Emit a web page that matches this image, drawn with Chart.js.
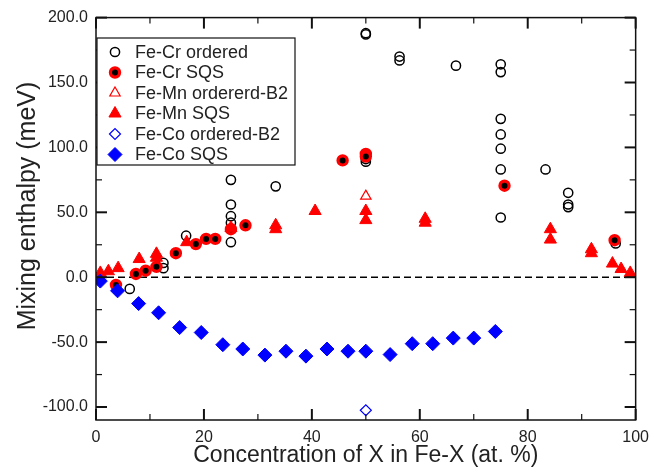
<!DOCTYPE html>
<html>
<head>
<meta charset="utf-8">
<script src="https://cdn.jsdelivr.net/npm/chart.js@4.4.0/dist/chart.umd.min.js"></script>
<style>
  html, body { margin: 0; padding: 0; background: #fff; }
  #wrap { width: 657px; height: 473px; }
</style>
</head>
<body>
<div id="wrap"><canvas id="c" width="657" height="473"></canvas></div>
<script>
// Mixing enthalpy (meV) versus concentration of X in Fe-X (at. %)
const crOrderedX = [6.25, 12.5, 12.5, 16.7, 25, 25, 25, 25, 25, 33.3, 50, 50, 50, 50, 56.25, 56.25, 66.7,
                    75, 75, 75, 75, 75, 75, 75, 83.3, 87.5, 87.5, 87.5, 96.3];
const crOrderedY = [-9, 11, 7, 32, 75, 56, 47, 42, 27, 70, 188, 187, 91, 89, 170, 167, 163,
                    164, 158, 122, 110, 99, 83, 46, 83, 65, 56, 54, 26];

const crSqsX = [3.7, 7.4, 9.2, 11.2, 14.8, 18.5, 20.4, 22.1, 25, 27.7, 45.7, 50, 50, 75.7, 96.1];
const crSqsY = [-6, 2.5, 5, 8, 18.5, 25.5, 29.5, 29.5, 37, 40, 90, 95, 93, 70.5, 28.5];

const mnB2X = [50];
const mnB2Y = [62.5];

const mnSqsX = [0.8, 2.3, 4.1, 8, 11.2, 11.2, 16.8, 25, 33.3, 33.3, 40.6, 50, 50, 61, 61,
                84.2, 84.2, 91.8, 91.8, 95.7, 97.3, 99];
const mnSqsY = [3.3, 4.6, 7, 14, 18, 15, 27, 38, 40, 37, 51, 51, 44, 45, 42,
                37, 29, 21.5, 18.5, 10.5, 6.3, 3.3];

const coB2X = [50];
const coB2Y = [-102.5];

const coSqsX = [0.8, 4, 7.9, 11.6, 15.5, 19.5, 23.5, 27.2, 31.3, 35.2, 38.9, 42.8, 46.7, 50,
                54.5, 58.6, 62.4, 66.2, 70, 74];
const coSqsY = [-3, -10.5, -20.3, -27.4, -38.8, -42.6, -52, -55.3, -60, -57, -60.8, -55.3, -57, -57,
                -59.6, -51.2, -51.2, -46.9, -46.9, -41.8];

const xTicks = [0, 20, 40, 60, 80, 100];
const yTicks = [-100, -50, 0, 50, 100, 150, 200];
const seriesNames = ['Fe-Cr ordered', 'Fe-Cr SQS', 'Fe-Mn ordererd-B2', 'Fe-Mn SQS', 'Fe-Co ordered-B2', 'Fe-Co SQS'];
const xTitle = 'Concentration of X in Fe-X (at. %)';
const yTitle = 'Mixing enthalpy (meV)';

const FONT = '"Liberation Sans", Arial, Helvetica, sans-serif';
const pts = (xs, ys) => xs.map((x, i) => ({ x, y: ys[i] }));

const styles = [
  { pointStyle: 'circle',   radius: 4.6, bg: 'rgba(0,0,0,0)', border: '#000', bw: 1.5 },
  { pointStyle: 'circle',   radius: 4.6, bg: '#000',          border: '#f00', bw: 3.2 },
  { pointStyle: 'triangle', radius: 6,   bg: 'rgba(0,0,0,0)', border: '#f00', bw: 1.2 },
  { pointStyle: 'triangle', radius: 7,   bg: '#f00',          border: '#f00', bw: 1 },
  { pointStyle: 'rectRot',  radius: 5.5, bg: 'rgba(0,0,0,0)', border: '#00f', bw: 1.2 },
  { pointStyle: 'rectRot',  radius: 7,   bg: '#00f',          border: '#00f', bw: 1 }
];
const seriesData = [pts(crOrderedX, crOrderedY), pts(crSqsX, crSqsY), pts(mnB2X, mnB2Y),
                    pts(mnSqsX, mnSqsY), pts(coB2X, coB2Y), pts(coSqsX, coSqsY)];

const datasets = seriesData.map((d, i) => ({
  type: 'scatter',
  label: seriesNames[i],
  data: d,
  pointStyle: styles[i].pointStyle,
  pointRadius: styles[i].radius,
  pointHoverRadius: styles[i].radius,
  pointBackgroundColor: styles[i].bg,
  pointBorderColor: styles[i].border,
  pointBorderWidth: styles[i].bw,
  showLine: false,
  order: 6 - i
}));

// dashed zero reference line
datasets.push({
  type: 'line',
  label: 'zero',
  data: [{ x: 0, y: 0 }, { x: 100, y: 0 }],
  borderColor: '#000',
  borderWidth: 1.5,
  borderDash: [7, 4],
  pointRadius: 0,
  fill: false,
  order: 10
});

function drawMarker(ctx, st, x, y) {
  ctx.save();
  ctx.beginPath();
  const r = st.radius;
  if (st.pointStyle === 'circle') {
    ctx.arc(x, y, r, 0, Math.PI * 2);
  } else if (st.pointStyle === 'triangle') {
    for (let k = 0; k < 3; k++) {
      const a = k * 2 * Math.PI / 3;
      const px = x + Math.sin(a) * r, py = y - Math.cos(a) * r;
      if (k === 0) ctx.moveTo(px, py); else ctx.lineTo(px, py);
    }
  } else {
    ctx.moveTo(x - r, y); ctx.lineTo(x, y - r); ctx.lineTo(x + r, y); ctx.lineTo(x, y + r);
  }
  ctx.closePath();
  ctx.fillStyle = st.bg;
  ctx.fill();
  ctx.lineWidth = st.bw;
  ctx.strokeStyle = st.border;
  ctx.stroke();
  ctx.restore();
}

// frame with inward major/minor ticks on all four sides, plus the vertical axis title
const frameTicks = {
  id: 'frameTicks',
  afterDatasetsDraw(chart) {
    const { ctx, chartArea: a, scales: { x, y } } = chart;
    ctx.save();
    ctx.strokeStyle = '#111';
    ctx.lineWidth = 1.5;
    ctx.strokeRect(a.left, a.top, a.right - a.left, a.bottom - a.top);
    const tick = (x1, y1, x2, y2, w) => {
      ctx.lineWidth = w; ctx.beginPath(); ctx.moveTo(x1, y1); ctx.lineTo(x2, y2); ctx.stroke();
    };
    for (let v = 0; v <= 100; v += 10) {
      const px = x.getPixelForValue(v);
      const major = v % 20 === 0;
      const L = major ? 11 : 6, w = major ? 2 : 1.2;
      tick(px, a.bottom, px, a.bottom - L, w);
      tick(px, a.top, px, a.top + L, w);
    }
    for (let v = -100; v <= 200; v += 25) {
      const py = y.getPixelForValue(v);
      const major = v % 50 === 0;
      const L = major ? 11 : 6, w = major ? 2 : 1.2;
      tick(a.left, py, a.left + L, py, w);
      tick(a.right, py, a.right - L, py, w);
    }
    // vertical axis title
    ctx.translate(28, 206);
    ctx.rotate(-Math.PI / 2);
    ctx.font = '25px ' + FONT;
    ctx.fillStyle = '#222';
    ctx.textAlign = 'center';
    ctx.textBaseline = 'middle';
    ctx.fillText(yTitle, 0, 0);
    ctx.restore();
  }
};

// legend box inside the plot area
const legendBox = {
  id: 'legendBox',
  afterDraw(chart) {
    const { ctx } = chart;
    const bx = 97, by = 38, bw = 198, bh = 127;
    ctx.save();
    ctx.fillStyle = '#fff';
    ctx.fillRect(bx, by, bw, bh);
    ctx.strokeStyle = '#111';
    ctx.lineWidth = 1.2;
    ctx.strokeRect(bx, by, bw, bh);
    ctx.font = '18px ' + FONT;
    ctx.textBaseline = 'middle';
    ctx.textAlign = 'left';
    seriesNames.forEach((name, i) => {
      const cy = 52 + i * 20.5;
      drawMarker(ctx, styles[i], 115, cy);
      ctx.fillStyle = '#222';
      ctx.fillText(name, 135, cy + 1);
    });
    ctx.restore();
  }
};

new Chart(document.getElementById('c'), {
  data: { datasets },
  options: {
    responsive: false,
    animation: false,
    devicePixelRatio: 1,
    layout: { padding: { top: 11, right: 14, left: 0, bottom: 0 } },
    plugins: { legend: { display: false }, tooltip: { enabled: false } },
    scales: {
      x: {
        type: 'linear', min: 0, max: 100,
        grid: { display: false, drawTicks: false },
        border: { display: false },
        afterFit(s) { s.height = 53; },
        afterBuildTicks(s) { s.ticks = xTicks.map(v => ({ value: v })); },
        ticks: { padding: 8, color: '#222', font: { family: FONT, size: 16 }, maxRotation: 0,
                 callback: v => String(v) },
        title: { display: true, text: xTitle, color: '#222',
                 font: { family: FONT, size: 23 }, padding: { top: 0, bottom: 4 } }
      },
      y: {
        type: 'linear', min: -110, max: 200,
        grid: { display: false, drawTicks: false },
        border: { display: false },
        afterFit(s) { s.width = 96; },
        afterBuildTicks(s) { s.ticks = yTicks.map(v => ({ value: v })); },
        ticks: { padding: 8, color: '#222', font: { family: FONT, size: 16 },
                 callback: v => Number(v).toFixed(1) }
      }
    }
  },
  plugins: [frameTicks, legendBox]
});
</script>
</body>
</html>
